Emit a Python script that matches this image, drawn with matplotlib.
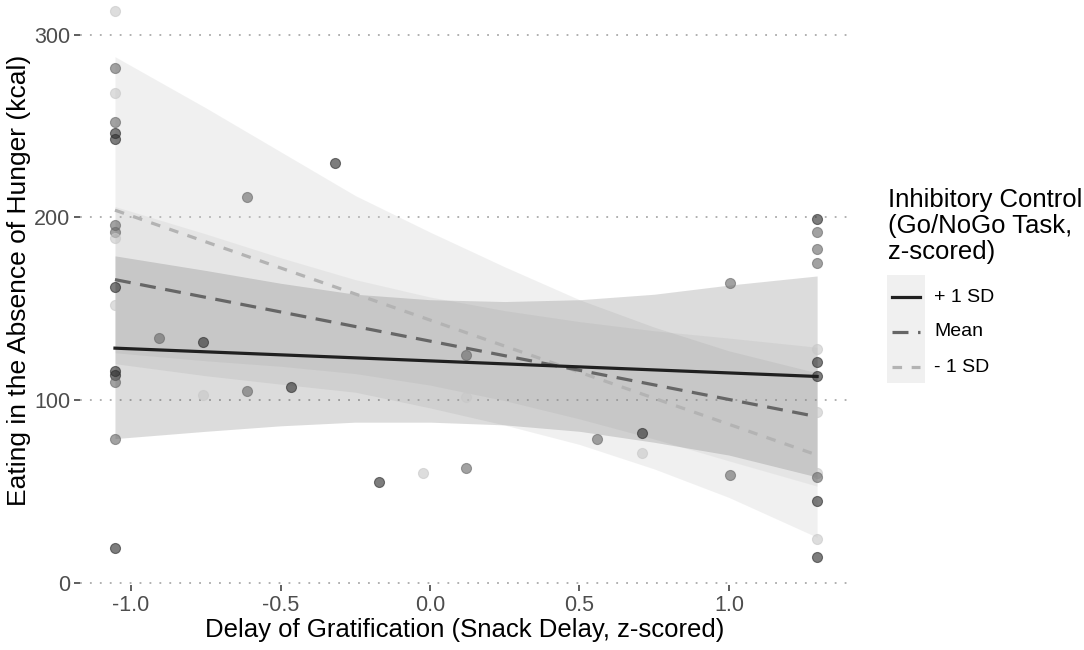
import numpy as np
import matplotlib
matplotlib.use("Agg")
import matplotlib.pyplot as plt
from matplotlib.lines import Line2D
from matplotlib.patches import Rectangle

plt.rcParams['font.family'] = ['Liberation Sans', 'DejaVu Sans']

# groups of the moderator (Go/NoGo inhibitory control)
groups = ['+ 1 SD', 'Mean', '- 1 SD']

# simple slopes: fitted line ends
line_x = [-1.054, 1.295]
line_y = {
    '+ 1 SD': [128.5, 113],
    'Mean': [166, 91],
    '- 1 SD': [204, 70],
}

# confidence bands read at these x positions
band_x = [-1.054, -0.75, -0.5, -0.25, 0.0, 0.25, 0.5, 0.75, 1.0, 1.295]
band_hi = {
    '+ 1 SD': [179, 171, 164, 158, 155, 154, 155, 158, 163, 168],
    'Mean': [206, 191, 178, 166, 156.5, 149, 143, 138, 134, 129],
    '- 1 SD': [288, 260, 236, 212, 192, 173, 155, 140, 127, 115],
}
band_lo = {
    '+ 1 SD': [79, 83, 86, 88, 88, 86.5, 83, 77, 70, 58],
    'Mean': [126, 121.6, 118.6, 114.6, 108.3, 99.8, 89.8, 78.8, 66.8, 53],
    '- 1 SD': [120, 113.4, 108.8, 104.4, 95.8, 86.4, 75.8, 62.4, 46.8, 25],
}

# raw observations
pt_x = [-1.054] * 16 + [-0.906, -0.758, -0.758, -0.611, -0.466, -0.611, -0.318,
                        -0.171, -0.024, 0.121, 0.121, 0.121, 0.560, 0.708, 0.708,
                        1.003, 1.003] + [1.295] * 13
pt_y = [313, 282, 268, 252, 246, 243, 196, 192, 189, 162, 152, 116, 114, 110, 79, 19] + \
       [134, 132, 103, 105, 107, 211, 230, 55, 60, 125, 102, 63, 79, 82, 71, 164, 59] + \
       [199, 192, 183, 175, 128, 121, 113, 93.6, 60, 58, 45, 24, 14]
pt_group = ['- 1 SD', 'Mean', '- 1 SD', 'Mean', '+ 1 SD', '+ 1 SD', 'Mean', 'Mean',
            '- 1 SD', '+ 1 SD', '- 1 SD', '+ 1 SD', '+ 1 SD', 'Mean', 'Mean', '+ 1 SD'] + \
           ['Mean', '+ 1 SD', '- 1 SD', 'Mean', '+ 1 SD', 'Mean', '+ 1 SD', '+ 1 SD',
            '- 1 SD', 'Mean', '- 1 SD', 'Mean', 'Mean', '+ 1 SD', '- 1 SD', 'Mean', 'Mean'] + \
           ['+ 1 SD', 'Mean', 'Mean', 'Mean', '- 1 SD', '+ 1 SD', '+ 1 SD', '- 1 SD',
            '- 1 SD', 'Mean', '+ 1 SD', '- 1 SD', '+ 1 SD']

y_ticks = [0, 100, 200, 300]
x_ticks = [-1.0, -0.5, 0.0, 0.5, 1.0]

line_col = {'+ 1 SD': '#202020', 'Mean': '#666666', '- 1 SD': '#b3b3b3'}
line_dash = {'+ 1 SD': '-', 'Mean': (0, (5, 3)), '- 1 SD': (0, (3, 3))}
band_col = {'+ 1 SD': ('#333333', 0.17), 'Mean': ('#7f7f7f', 0.09), '- 1 SD': ('#cccccc', 0.28)}
pt_col = {'+ 1 SD': '#2e2e2e', 'Mean': '#6a6a6a', '- 1 SD': '#c8c8c8'}

fig = plt.figure(figsize=(10.84, 6.5), dpi=100)
W, H = 1084, 650
ax = fig.add_axes([80 / W, (H - 585) / H, (850 - 80) / W, 585 / H])

for g in ['- 1 SD', 'Mean', '+ 1 SD']:
    c, a = band_col[g]
    ax.fill_between(band_x, band_lo[g], band_hi[g], color=c, alpha=a, lw=0, zorder=1)

for gx in y_ticks:
    ax.axhline(gx, color='#aaaaaa', lw=1.3, ls=(0, (1, 4.5)), zorder=0.5)

for x, y, g in zip(pt_x, pt_y, pt_group):
    ax.scatter(x, y, s=52, color=pt_col[g], alpha=0.62, edgecolors=pt_col[g],
               linewidths=0.8, zorder=2)

for g in ['- 1 SD', 'Mean', '+ 1 SD']:
    ax.plot(line_x, line_y[g], color=line_col[g], lw=2.3, ls=line_dash[g], zorder=3)

ax.set_xlim(-1.171, 1.405)
ax.set_ylim(-1.1, 319)
ax.set_xticks(x_ticks)
ax.set_xticklabels(['-1.0', '-0.5', '0.0', '0.5', '1.0'])
ax.set_yticks(y_ticks)
for s in ax.spines.values():
    s.set_visible(False)
ax.tick_params(axis='both', colors='#333333', length=4, width=1.1, labelsize=15.5,
               labelcolor='#4d4d4d', pad=3)
ax.set_xlabel('Delay of Gratification (Snack Delay, z-scored)', fontsize=18.5, labelpad=2)
ax.set_ylabel('Eating in the Absence of Hunger (kcal)', fontsize=19)
ax.yaxis.set_label_coords(-0.064, 0.52)

# legend
fig.text(888 / W, 1 - 226 / H, 'Inhibitory Control\n(Go/NoGo Task,\nz-scored)',
         fontsize=18.5, va='center', ha='left', linespacing=1.08)
fig.add_artist(Rectangle((887 / W, 1 - 383 / H), 38 / W, 108 / H,
                         transform=fig.transFigure, color='#f0f0f0', lw=0))
for i, g in enumerate(groups):
    yk = 1 - (297 + 35 * i) / H
    fig.add_artist(Line2D([892 / W, 920 / W], [yk, yk], transform=fig.transFigure,
                          color=line_col[g], lw=2.3, ls=line_dash[g]))
    fig.text(934 / W, yk, g, fontsize=14, va='center', ha='left')

fig.savefig('out.png', dpi=100)
